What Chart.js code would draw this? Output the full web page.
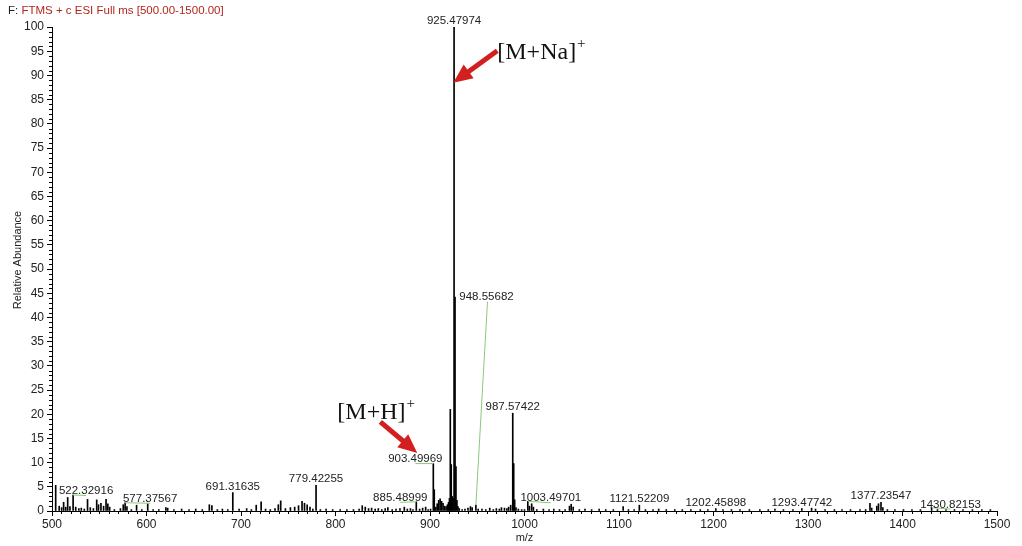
<!DOCTYPE html>
<html>
<head>
<meta charset="utf-8">
<script src="https://cdn.jsdelivr.net/npm/chart.js@4.4.1/dist/chart.umd.min.js"></script>
<style>
  html, body { margin: 0; padding: 0; background: #fff; }
  #wrap { width: 1022px; height: 546px; position: relative; }
</style>
</head>
<body>
<div id="wrap"><canvas id="spectrum" width="1022" height="546"></canvas></div>
<script>
// Centroided peaks: m/z and relative abundance (%)
const peakMz = [
  503.9, 507.6, 510.2, 512.3, 514.5, 516.6, 519.0, 522.32916, 525.1, 528.4,
  531.0, 534.2, 537.6, 540.5, 543.8, 547.3, 549.2, 551.8, 554.6, 557.2,
  559.1, 561.0, 566.0, 572.4, 575.4, 577.37567, 579.3, 584.0, 589.5, 595.0,
  601.3, 607.0, 613.0, 620.5, 622.4, 629.0, 637.2, 645.0, 652.1, 659.0,
  666.5, 669.2, 675.0, 680.3, 686.0, 691.31635, 698.0, 706.0, 711.0, 716.1,
  721.3, 726.0, 731.0, 736.0, 739.5, 742.0, 747.0, 752.3, 756.8, 760.9,
  764.6, 767.2, 770.0, 773.0, 776.0, 779.42255, 784.0, 790.0, 797.0, 805.0,
  812.0, 819.0, 825.0, 828.3, 831.5, 835.0, 838.2, 842.0, 845.3, 849.0,
  852.6, 855.4, 860.0, 864.0, 868.2, 872.8, 876.0, 879.3, 882.0, 885.48999,
  889.0, 892.2, 895.4, 898.0, 900.6, 903.49969, 904.50, 906.1, 907.6, 909.2,
  910.7, 912.3, 913.8, 915.4, 917.0, 918.4, 919.6, 920.6, 921.48, 922.48,
  923.5, 924.4, 925.47974, 926.48, 927.48, 928.49, 929.6, 931.0, 934.0, 937.0,
  940.2, 942.8, 944.6, 948.55682, 951.0, 955.0, 959.0, 963.2, 967.0, 970.2,
  973.4, 975.6, 978.8, 981.4, 983.2, 985.4, 987.57422, 988.58, 989.58, 991.0,
  993.5, 997.0, 1000.0, 1003.49701, 1005.2, 1007.6, 1009.4, 1013.0, 1020.0, 1026.0,
  1031.0, 1037.0, 1043.0, 1047.6, 1049.4, 1051.5, 1058.0, 1064.0, 1071.0, 1079.0,
  1086.0, 1094.0, 1104.4, 1110.0, 1116.0, 1121.52209, 1128.0, 1136.0, 1142.0, 1150.0,
  1159.0, 1167.0, 1176.0, 1186.0, 1194.0, 1202.45898, 1210.0, 1219.0, 1228.0, 1238.0,
  1249.0, 1258.0, 1265.0, 1274.0, 1284.0, 1293.47742, 1303.8, 1308.0, 1318.0, 1328.0,
  1336.0, 1345.0, 1355.0, 1361.0, 1365.6, 1367.4, 1372.8, 1374.6, 1377.23547, 1379.2,
  1384.0, 1392.0, 1401.0, 1410.0, 1419.0, 1430.82153, 1437.0, 1446.0, 1455.0, 1464.0,
  1474.0, 1484.0, 1493.0
];
const peakIntensity = [
  5.3, 1.0, 0.7, 1.8, 0.8, 2.8, 0.9, 3.3, 0.8, 0.5,
  0.6, 0.4, 2.4, 0.7, 0.5, 2.3, 1.3, 1.6, 1.0, 2.4,
  1.5, 0.8, 0.3, 0.5, 1.3, 1.7, 0.9, 0.3, 1.2, 0.3,
  1.5, 0.3, 0.3, 0.7, 0.6, 0.3, 0.4, 0.3, 0.4, 0.3,
  1.3, 1.1, 0.3, 0.4, 0.3, 3.8, 0.4, 0.5, 0.3, 1.2,
  1.9, 0.4, 0.3, 0.5, 1.3, 2.1, 0.5, 0.7, 0.8, 1.1,
  2.0, 1.6, 1.3, 0.8, 0.4, 5.3, 0.3, 0.4, 0.3, 0.3,
  0.3, 0.3, 0.4, 1.1, 0.8, 0.5, 0.6, 0.4, 0.5, 0.3,
  0.5, 0.7, 0.3, 0.4, 0.5, 0.8, 0.4, 0.5, 0.3, 1.9,
  0.4, 0.6, 0.8, 0.3, 0.4, 9.8, 4.4, 0.8, 1.5, 2.2,
  2.5, 2.0, 1.6, 1.0, 0.9, 1.3, 1.8, 2.6, 21.0, 9.6,
  3.0, 2.6, 100, 44.2, 9.2, 2.2, 0.9, 0.5, 0.3, 0.4,
  0.6, 0.9, 0.7, 1.2, 0.4, 0.4, 0.3, 0.6, 0.3, 0.5,
  0.4, 0.7, 0.6, 0.5, 0.8, 1.2, 20.2, 9.8, 2.3, 0.7,
  0.4, 0.3, 0.3, 2.0, 1.0, 1.5, 0.8, 0.3, 0.4, 0.3,
  0.4, 0.3, 0.3, 1.0, 1.4, 0.8, 0.3, 0.4, 0.3, 0.4,
  0.3, 0.3, 0.9, 0.3, 0.3, 1.2, 0.3, 0.3, 0.4, 0.3,
  0.3, 0.3, 0.3, 0.3, 0.3, 0.5, 0.3, 0.3, 0.3, 0.3,
  0.3, 0.3, 0.4, 0.3, 0.3, 0.5, 0.6, 0.4, 0.3, 0.3,
  0.3, 0.3, 0.3, 0.3, 1.6, 0.6, 1.0, 1.5, 1.8, 0.7,
  0.3, 0.3, 0.3, 0.3, 0.3, 0.7, 0.3, 0.3, 0.3, 0.3,
  0.3, 0.3, 0.3
];

// Peaks annotated with their accurate mass
const labelledMz = [
  925.47974, 948.55682, 987.57422, 903.49969, 885.48999, 779.42255, 691.31635,
  577.37567, 522.32916, 1003.49701, 1121.52209, 1202.45898, 1293.47742,
  1377.23547, 1430.82153
];

// Axis ticks
const mzRange = [500, 1500];
const mzMajorStep = 100;
const mzMinorStep = 10;
const abundanceRange = [0, 100];
const abundanceMajorStep = 5;
const abundanceMinorStep = 1;

// Text
const scanHeaderPrefix = 'F: ';
const scanHeader = 'FTMS + c ESI Full ms [500.00-1500.00]';
const xTitle = 'm/z';
const yTitle = 'Relative Abundance';

// Ion assignments: the peak each arrow points at
const ionAnnotations = [
  { base: '[M+Na]', sup: '+', mz: 925.47974 },
  { base: '[M+H]',  sup: '+', mz: 903.49969 }
];

const SANS = '"Liberation Sans", Arial, Helvetica, sans-serif';
const SERIF = '"Liberation Serif", "Times New Roman", serif';

// Minor tick marks on both axes
const minorTicks = {
  id: 'minorTicks',
  afterDraw(chart) {
    const { ctx, scales: { x, y } } = chart;
    ctx.save();
    ctx.strokeStyle = '#000';
    ctx.lineWidth = 1;
    ctx.beginPath();
    for (let v = mzRange[0]; v <= mzRange[1]; v += mzMinorStep) {
      if (v % mzMajorStep === 0) continue;
      const px = Math.round(x.getPixelForValue(v)) + 0.5;
      ctx.moveTo(px, y.bottom);
      ctx.lineTo(px, y.bottom + 3);
    }
    for (let v = abundanceRange[0]; v <= abundanceRange[1]; v += abundanceMinorStep) {
      if (v % abundanceMajorStep === 0) continue;
      const py = Math.round(y.getPixelForValue(v)) + 0.5;
      ctx.moveTo(x.left, py);
      ctx.lineTo(x.left - 3, py);
    }
    ctx.stroke();
    ctx.restore();
  }
};

// Mass labels above peaks, with leader lines when shifted aside
const peakLabels = {
  id: 'peakLabels',
  afterDatasetsDraw(chart, args, opts) {
    const { ctx, scales: { x, y } } = chart;
    ctx.save();
    ctx.font = opts.font;
    ctx.textAlign = 'center';
    ctx.textBaseline = 'alphabetic';
    labelledMz.forEach(mz => {
      const i = peakMz.indexOf(mz);
      const px = x.getPixelForValue(mz);
      const py = y.getPixelForValue(peakIntensity[i]);
      const text = mz.toFixed(5);
      const p = opts.shift[text] || { dx: 0, dy: -3 };
      const lx = px + p.dx, ly = py + p.dy;
      if (p.leader) {
        ctx.strokeStyle = opts.leaderColor;
        ctx.lineWidth = 1;
        ctx.beginPath();
        ctx.moveTo(lx + (p.lx || 0), ly + 1.5);
        ctx.lineTo(px, py);
        ctx.stroke();
      }
      ctx.fillStyle = opts.color;
      ctx.fillText(text, lx, ly);
    });
    ctx.restore();
  }
};

// Header line, axis titles and ion assignment arrows
const decorations = {
  id: 'decorations',
  afterDraw(chart, args, opts) {
    const { ctx, scales: { x, y } } = chart;
    ctx.save();
    // scan header
    ctx.font = '11.5px ' + SANS;
    ctx.textBaseline = 'alphabetic';
    ctx.textAlign = 'left';
    ctx.fillStyle = '#222';
    ctx.fillText(scanHeaderPrefix, 8, 14);
    const w = ctx.measureText(scanHeaderPrefix).width;
    ctx.fillStyle = '#b3261e';
    ctx.fillText(scanHeader, 8 + w, 14);

    // axis titles
    ctx.fillStyle = '#222';
    ctx.font = '11px ' + SANS;
    ctx.textAlign = 'center';
    ctx.fillText(xTitle, (x.left + x.right) / 2, 541);
    ctx.save();
    ctx.translate(21, 260);
    ctx.rotate(-Math.PI / 2);
    ctx.fillText(yTitle, 0, 0);
    ctx.restore();

    // ion assignments
    opts.ions.forEach((ion, k) => {
      const a = ionAnnotations[k];
      const tipX = x.getPixelForValue(a.mz) + ion.tip[0];
      const tipY = y.getPixelForValue(ion.tipLevel);
      const tailX = tipX + ion.tail[0], tailY = tipY + ion.tail[1];
      drawArrow(ctx, tailX, tailY, tipX, tipY, opts.arrowColor);
      ctx.fillStyle = '#111';
      ctx.textAlign = 'left';
      ctx.font = '24px ' + SERIF;
      const tx = tipX + ion.text[0], ty = tipY + ion.text[1];
      ctx.fillText(a.base, tx, ty);
      const bw = ctx.measureText(a.base).width;
      ctx.font = '15px ' + SERIF;
      ctx.fillText(a.sup, tx + bw + 1, ty - 11);
    });
    ctx.restore();
  }
};

function drawArrow(ctx, x0, y0, x1, y1, color) {
  const ang = Math.atan2(y1 - y0, x1 - x0);
  const headLen = 19, headHalf = 8.5;
  const bx = x1 - headLen * Math.cos(ang), by = y1 - headLen * Math.sin(ang);
  ctx.save();
  ctx.strokeStyle = color;
  ctx.fillStyle = color;
  ctx.lineWidth = 5;
  ctx.lineCap = 'butt';
  ctx.beginPath();
  ctx.moveTo(x0, y0);
  ctx.lineTo(bx + 2 * Math.cos(ang), by + 2 * Math.sin(ang));
  ctx.stroke();
  ctx.beginPath();
  ctx.moveTo(x1, y1);
  ctx.lineTo(bx + headHalf * Math.sin(ang), by - headHalf * Math.cos(ang));
  ctx.lineTo(bx - headHalf * Math.sin(ang), by + headHalf * Math.cos(ang));
  ctx.closePath();
  ctx.fill();
  ctx.restore();
}

const tickFont = { family: SANS, size: 12 };
const plainNumber = v => String(v);

new Chart(document.getElementById('spectrum'), {
  type: 'bar',
  data: {
    datasets: [{
      data: peakMz.map((m, i) => ({ x: m, y: peakIntensity[i] })),
      backgroundColor: '#000',
      borderWidth: 0,
      barThickness: 1
    }]
  },
  options: {
    responsive: false,
    animation: false,
    events: [],
    layout: { padding: { top: 27, right: 25, left: 0, bottom: 0 } },
    plugins: {
      legend: { display: false },
      tooltip: { enabled: false },
      peakLabels: {
        font: '11.5px ' + SANS,
        color: '#222',
        leaderColor: '#8cc87a',
        shift: {
          '948.55682': { dx: 10.6, dy: -205, leader: true, lx: 1 },
          '903.49969': { dx: -18, dy: -1.5, leader: true },
          '885.48999': { dx: -16, dy: -1, leader: true },
          '577.37567': { dx: 25, dy: -1, leader: true },
          '522.32916': { dx: 13, dy: -1, leader: true },
          '1003.49701': { dx: 23, dy: 0, leader: true },
          '1430.82153': { dx: 19, dy: 0, leader: true }
        }
      },
      decorations: {
        arrowColor: '#d21f1f',
        ions: [
          { tip: [-0.8, 0], tipLevel: 88.5, tail: [44, -32], text: [44, -24] },
          { tip: [-16, 0], tipLevel: 12.0, tail: [-37, -31], text: [-80, -34] }
        ]
      }
    },
    scales: {
      x: {
        type: 'linear',
        min: mzRange[0],
        max: mzRange[1],
        offset: false,
        afterFit(s) { s.height = 35; },
        afterBuildTicks(s) {
          s.ticks = [];
          for (let v = mzRange[0]; v <= mzRange[1]; v += mzMajorStep) s.ticks.push({ value: v });
        },
        ticks: { autoSkip: false, maxRotation: 0, color: '#222', font: tickFont, padding: 1, callback: plainNumber },
        grid: { drawOnChartArea: false, drawTicks: true, tickLength: 5, color: '#000', offset: false },
        border: { color: '#000', width: 1 }
      },
      y: {
        min: abundanceRange[0],
        max: abundanceRange[1],
        afterFit(s) { s.width = 52; },
        afterBuildTicks(s) {
          s.ticks = [];
          for (let v = abundanceRange[0]; v <= abundanceRange[1]; v += abundanceMajorStep) s.ticks.push({ value: v });
        },
        ticks: { color: '#222', font: tickFont, padding: 3, callback: plainNumber },
        grid: { drawOnChartArea: false, drawTicks: true, tickLength: 5, color: '#000' },
        border: { color: '#000', width: 1 }
      }
    }
  },
  plugins: [minorTicks, peakLabels, decorations]
});
</script>
</body>
</html>
